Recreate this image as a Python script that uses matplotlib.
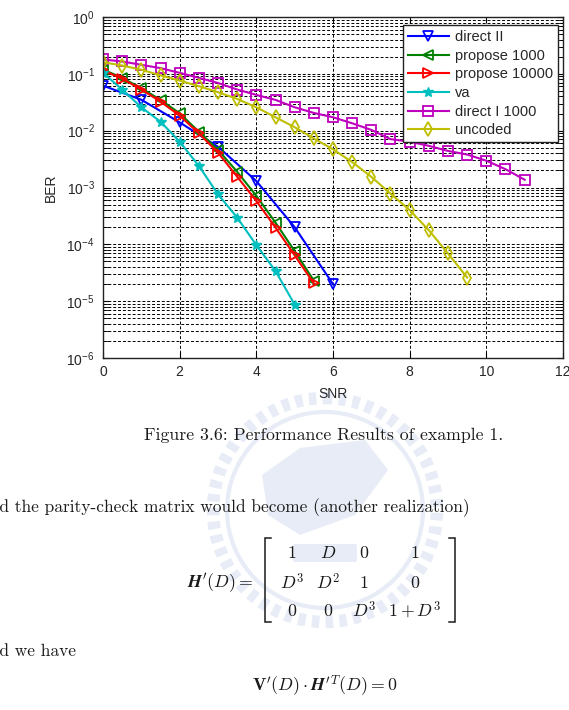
import numpy as np
import matplotlib
matplotlib.use("Agg")
import matplotlib.pyplot as plt
from matplotlib import ticker
from matplotlib.patches import Circle, FancyBboxPatch, Polygon

plt.rcParams['font.family'] = ['Liberation Sans', 'DejaVu Sans']

# --- data ---
snr_direct2 = [0, 1, 2, 3, 4, 5, 6]
ber_direct2 = [0.062, 0.035, 0.014, 0.0052, 0.0013, 0.0002, 2.0e-5]

snr_prop = [0, 0.5, 1, 1.5, 2, 2.5, 3, 3.5, 4, 4.5, 5, 5.5]
ber_prop1000 = [0.119, 0.085, 0.0558, 0.0348, 0.0202, 0.0096, 0.0046,
                0.00189, 0.000713, 0.000241, 7.6e-5, 2.3e-5]
ber_prop10000 = [0.115, 0.082, 0.053, 0.0325, 0.0184, 0.009, 0.0041,
                 0.00155, 0.00058, 0.000197, 6.4e-5, 2.05e-5]

snr_va = [0, 0.5, 1, 1.5, 2, 2.5, 3, 3.5, 4, 4.5, 5]
ber_va = [0.104, 0.053, 0.0258, 0.0144, 0.0064, 0.0024, 0.00076,
          0.000296, 9.7e-5, 3.4e-5, 8.7e-6]

snr_direct1 = [0, 0.5, 1, 1.5, 2, 2.5, 3, 3.5, 4, 4.5, 5, 5.5, 6, 6.5, 7,
               7.5, 8, 8.5, 9, 9.5, 10, 10.5, 11]
ber_direct1 = [0.179, 0.165, 0.144, 0.126, 0.104, 0.085, 0.069, 0.053,
               0.0426, 0.0348, 0.0258, 0.0205, 0.0172, 0.0135, 0.0103,
               0.0071, 0.0064, 0.0054, 0.0044, 0.0038, 0.00296, 0.0021,
               0.00137]

snr_unc = [0, 0.5, 1, 1.5, 2, 2.5, 3, 3.5, 4, 4.5, 5, 5.5, 6, 6.5, 7,
           7.5, 8, 8.5, 9, 9.5]
ber_unc = [0.16, 0.14, 0.118, 0.094, 0.076, 0.0606, 0.0475, 0.0362,
           0.0258, 0.0172, 0.0115, 0.0073, 0.0047, 0.0028, 0.00154,
           0.00078, 0.0004, 0.000177, 6.9e-5, 2.6e-5]

labels = ['direct II', 'propose 1000', 'propose 10000', 'va',
          'direct I 1000', 'uncoded']
xticks = [0, 2, 4, 6, 8, 10, 12]

W, H = 569, 710


def fx(x):
    return x / W


def fy(y):
    return 1 - y / H


fig = plt.figure(figsize=(W / 100, H / 100), dpi=100)

# faint watermark behind the text (pixel coordinates)
bg = fig.add_axes([0, 0, 1, 1], zorder=0)
bg.set_xlim(0, W)
bg.set_ylim(H, 0)
bg.axis('off')
wm = '#e7ecf6'
bg.add_patch(Circle((325, 510), 112, fill=False, ec=wm, lw=9,
                    ls=(0, (0.6, 0.5))))
bg.add_patch(Circle((325, 510), 98, fill=False, ec=wm, lw=3))
bg.add_patch(Polygon([[262, 475], [300, 448], [365, 440], [388, 470],
                      [355, 515], [300, 535], [268, 515]],
                     closed=True, fc=wm, ec='none'))
bg.add_patch(FancyBboxPatch((295, 546), 60, 14, boxstyle='round,pad=2',
                            fc=wm, ec='none'))

# --- the BER chart ---
ax = fig.add_axes([fx(103), fy(358), (563 - 103) / W, (358 - 17) / H],
                  zorder=2)
ax.set_yscale('log')

kw = dict(lw=1.5, ms=7, mfc='none', mew=1.3)
ax.plot(snr_direct2, ber_direct2, 'v-', color='#0000ff', label=labels[0], **kw)
ax.plot(snr_prop, ber_prop1000, '<-', color='#008000', label=labels[1], **kw)
ax.plot(snr_prop, ber_prop10000, '>-', color='#ff0000', label=labels[2], **kw)
ax.plot(snr_va, ber_va, '*-', color='#00bfbf', label=labels[3], lw=1.5,
        ms=7, mew=1)
ax.plot(snr_direct1, ber_direct1, 's-', color='#bf00bf', label=labels[4], **kw)
ax.plot(snr_unc, ber_unc, 'd-', color='#bfbf00', label=labels[5],
        lw=1.5, ms=7.5, mfc='none', mew=1.3)

ax.set_xlim(0, 12)
ax.set_ylim(1e-6, 1)
ax.set_xticks(xticks)
ax.yaxis.set_major_locator(ticker.LogLocator(base=10, numticks=10))
ax.yaxis.set_minor_locator(ticker.LogLocator(base=10, subs=np.arange(2, 10),
                                             numticks=20))
ax.yaxis.set_minor_formatter(ticker.NullFormatter())

gs = (0, (3, 2))
ax.grid(True, which='major', ls=gs, color='k', lw=0.7)
ax.grid(True, which='minor', axis='y', ls=gs, color='k', lw=0.7)
ax.tick_params(which='both', direction='in', top=True, right=True,
               labelsize=10, labelcolor='#262626', length=4)
ax.tick_params(axis='y', pad=6)
ax.tick_params(axis='x', pad=5)
for s in ax.spines.values():
    s.set_linewidth(1.0)
    s.set_color('#222222')

ax.set_xlabel('SNR', fontsize=10, color='#262626', labelpad=6)
ax.set_ylabel('BER', fontsize=10, color='#262626', labelpad=6)

leg = ax.legend(loc='upper right', bbox_to_anchor=(0.989, 0.977),
                borderaxespad=0, fancybox=False, framealpha=1,
                edgecolor='#222222', fontsize=10.5, handlelength=2.8,
                handletextpad=0.4, labelspacing=0.32, borderpad=0.35)
leg.get_frame().set_linewidth(1.0)
for t in leg.get_texts():
    t.set_color('#262626')

# --- page text under the figure ---
tc = '#1a1a1a'
fs = 12.8
fig.text(fx(324), fy(435), 'Figure 3.6: Performance Results of example 1.',
         family='cmr10', fontsize=fs, ha='center', va='center', color=tc)
fig.text(fx(-19), fy(508),
         'and the parity-check matrix would become (another realization)',
         family='cmr10', fontsize=12.5, ha='left', va='center', color=tc)
fig.text(fx(-19), fy(651), 'and we have', family='cmr10', fontsize=12.5,
         ha='left', va='center', color=tc)

fig.text(fx(253), fy(583), r"$\mathbfit{H}'(D) =$", math_fontfamily='cm',
         fontsize=fs, ha='right', va='center', color=tc)

matrix = [['1', 'D', '0', '1'],
          ['D^3', 'D^2', '1', '0'],
          ['0', '0', 'D^3', '1+D^3']]
col_x = [292, 328, 364, 415]
row_y = [553, 583, 611]
for r, row in enumerate(matrix):
    for c, cell in enumerate(row):
        fig.text(fx(col_x[c]), fy(row_y[r]), '$' + cell + '$',
                 math_fontfamily='cm', fontsize=fs, ha='center',
                 va='center', color=tc)

top, bot = 538, 622
for xb, d in [(265, 6), (455, -6)]:
    bg.plot([xb + d, xb, xb, xb + d], [top, top, bot, bot], color=tc,
            lw=1.1, solid_joinstyle='miter')

fig.text(fx(325), fy(686), r"$\mathbf{V}'(D)\cdot\mathbfit{H}'^{T}(D) = \mathbf{0}$",
         math_fontfamily='cm', fontsize=fs, ha='center', va='center',
         color=tc)

fig.savefig('out.png', dpi=100)
